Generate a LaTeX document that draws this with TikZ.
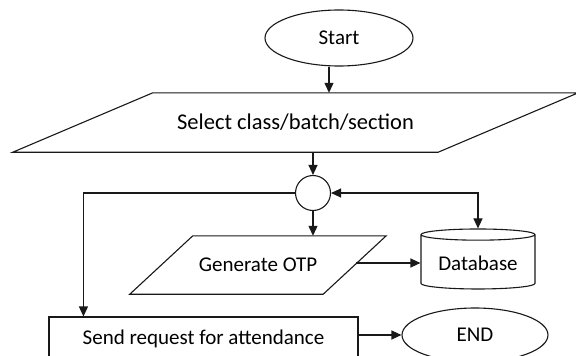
\documentclass[tikz,border=0pt]{standalone}
\usepackage{fontspec}
\setmainfont{Carlito}
\usetikzlibrary{shapes.geometric, arrows.meta, positioning}
\tikzset{
  flow/.style={draw=black!90, line width=1.1pt, fill=white},
  edge/.style={draw=black!90, line width=1.1pt},
  arr/.style={edge, -{Triangle[length=10pt,width=9pt]}},
  terminal/.style={flow, ellipse, inner sep=0pt},
  body/.style={inner sep=0pt},
  txt/.style={text=black, font=\fontsize{21}{25}\selectfont},
}

\begin{document}
\begin{tikzpicture}[x=1pt, y=-1pt]
      % page frame
      \fill[white] (0,0) rectangle (576,356);
      \useasboundingbox (0,0) rectangle (576,356);

      % Start and END
      \node[terminal, txt, minimum width=148pt, minimum height=56pt] (start) at (339,38) {Start};
      \node[terminal, txt, minimum width=146pt, minimum height=54pt] (end) at (475,335) {END};

      % Input box: select
      \node[body, txt, font=\fontsize{22.5}{27}\selectfont, minimum width=285pt, minimum height=59pt] (select) at (295.5,122.5) {Select class/batch/section};
      \draw[edge] (select.north west) -- ([xshift=140pt]select.north east) -- (select.south east)
                  -- ([xshift=-140pt]select.south west) -- cycle;

      % Input box: OTP
      \node[body, txt, minimum width=130pt, minimum height=58pt] (otp) at (258,265) {Generate OTP};
      \draw[edge] (otp.north west) -- ([xshift=63pt]otp.north east) -- (otp.south east)
                  -- ([xshift=-63pt]otp.south west) -- cycle;

      % Connector circle
      \node[flow, circle, minimum size=35pt, inner sep=0pt] (join) at (313,193) {};

      % Database
      \node[flow, txt, cylinder, shape border rotate=90, aspect=0.13,
            minimum width=114pt, minimum height=60pt] (db) at (478,263) {Database};

      % Process box
      \node[flow, txt, rectangle, minimum width=309pt, minimum height=44pt] (send) at (203.5,339) {Send request for attendance};

      % Connectors
      \draw[arr] ([xshift=-10pt]start.south) -- ([xshift=-10pt]start.south |- select.north);
      \draw[arr] (select.south -| join.north) -- (join.north);
      \draw[arr] (join.south) -- (join.south |- otp.north);
      \draw[arr] (join.west) -| ([xshift=35pt]send.north west);
      \draw[arr, {Triangle[length=10pt,width=9pt]}-{Triangle[length=10pt,width=9pt]}] (join.east) -| (db.north);
      \draw[arr] ([xshift=33pt,yshift=2pt]otp.east) -- ([yshift=2pt]otp.east -| db.west);
      \draw[arr] (send.east |- end.west) -- (end.west);
    \end{tikzpicture}
\end{document}
